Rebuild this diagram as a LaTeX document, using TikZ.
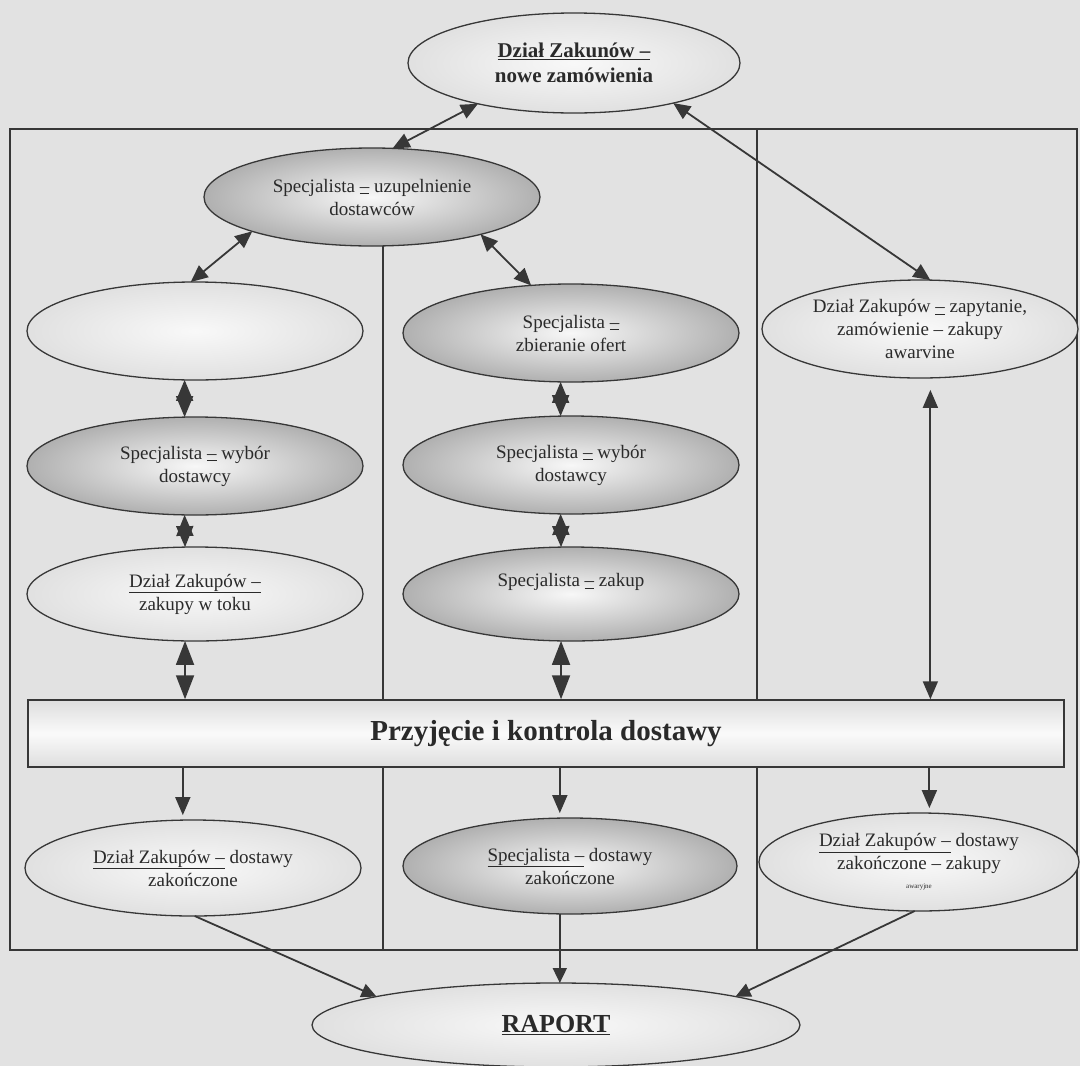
\documentclass[tikz,border=0pt]{standalone}
\usepackage{fontspec}
\setmainfont{Liberation Serif}
\usetikzlibrary{shapes.geometric,arrows.meta,calc}
\definecolor{bg}{RGB}{226,226,226}
\definecolor{ln}{RGB}{55,55,55}
\definecolor{tx}{RGB}{42,42,42}
\tikzset{
  ell/.style={ellipse, draw=ln, line width=1.3pt, inner sep=0pt, outer sep=0pt},
  std/.style={ell, minimum width=336pt, minimum height=98pt},
  plain/.style={inner color=gray!5, outer color=gray!24},
  shd/.style={inner color=gray!6, outer color=gray!62},
  txt/.style={align=center, text=tx, font=\fontsize{19}{23}\selectfont},
  conn/.style={draw=ln, line width=1.8pt},
  tA/.tip={Triangle[width=15pt,length=17pt]},
  tS/.tip={Triangle[width=17pt,length=21pt]},
  tB/.tip={Triangle[width=18pt,length=24pt]},
  tC/.tip={Triangle[width=15pt,length=18pt]},
  tR/.tip={Triangle[width=14pt,length=15pt]},
}
\begin{document}
\begin{tikzpicture}[x=1pt,y=-1pt]
\fill[bg] (0,0) rectangle (1080,1066);
\useasboundingbox (0,0) rectangle (1080,1066);
% frame and column dividers
\draw[ln, line width=1.4pt] (10,129) rectangle (1077,950);
\draw[ln, line width=1.4pt] (383,245) -- (383,950);
\draw[ln, line width=1.4pt] (757,129) -- (757,950);

% process bar
\node[draw=ln, line width=1.5pt, top color=gray!26, bottom color=gray!26, middle color=gray!4,
      minimum width=1036pt, minimum height=67pt, inner sep=0pt,
      font=\bfseries\fontsize{29}{32}\selectfont, text=tx] (rect) at (546,733.5) {Przyjęcie i kontrola dostawy};

% ellipses
\node[ell, minimum width=332pt, minimum height=100pt, plain,
      label={[txt, font=\bfseries\fontsize{21}{25}\selectfont]center:{\underline{Dział Zakunów –}\\nowe zamówienia}}] (top) at (574,63) {};
\node[std, shd, label={[txt]center:{Specjalista \underline{–} uzupelnienie\\dostawców}}] (spec) at (372,197) {};

\node[std, plain] (empty) at (195,331) {};
\node[std, shd, label={[txt]center:{Specjalista \underline{–} wybór\\dostawcy}}] (wybL) at (195,466) {};
\node[std, minimum height=94pt, plain, label={[txt]center:{\underline{Dział Zakupów –}\\zakupy w toku}}] (tok) at (195,594) {};

\node[std, shd, label={[txt]center:{Specjalista \underline{–}\\zbieranie ofert}}] (zbier) at (571,333) {};
\node[std, shd, label={[txt]center:{Specjalista \underline{–} wybór\\dostawcy}}] (wybM) at (571,465) {};
\node[std, minimum height=94pt, shd, label={[txt, yshift=12pt]center:{Specjalista \underline{–} zakup}}] (zak) at (571,594) {};

\node[ell, minimum width=316pt, minimum height=98pt, plain,
      label={[txt]center:{Dział Zakupów \underline{–} zapytanie,\\zamówienie – zakupy\\awarvine}}] (awar) at (920,329) {};

\node[std, minimum height=96pt, plain, label={[txt]center:{\underline{Dział Zakupów –} dostawy\\zakończone}}] (dL) at (193,868) {};
\node[ell, minimum width=334pt, minimum height=96pt, shd, label={[txt]center:{\underline{Specjalista –} dostawy\\zakończone}}] (dM) at (570,866) {};
\node[ell, minimum width=320pt, minimum height=98pt, plain,
      label={[txt]center:{\underline{Dział Zakupów –} dostawy\\zakończone – zakupy\\[-4pt]{\fontsize{7}{8}\selectfont awaryjne}}}] (dR) at (919,862) {};

\node[ell, minimum width=488pt, minimum height=84pt, plain,
      font=\bfseries\fontsize{26}{30}\selectfont, text=tx] (rap) at (556,1025) {\underline{RAPORT}};

% connectors
\draw[conn, tA-tA] (top.203) -- (spec.67);
\draw[conn, tA-tA] (top.338) -- (awar.78);
\draw[conn, tA-tA] (spec.196) -- (empty.95);
\draw[conn, tA-tA] (spec.341) -- (zbier.130);

\draw[conn, tS-tS] (empty.258) -- (wybL.102);
\draw[conn, tS-tS] (wybL.258) -- (tok.102);
\draw[conn, tS-tS] (zbier.258) -- (wybM.102);
\draw[conn, tS-tS] (wybM.258) -- (zak.102);

\draw[conn, tB-tB] (tok.258) -- (tok.258 |- rect.north);
\draw[conn, tB-tB] (zak.258) -- (zak.258 |- rect.north);
\draw[conn, tC-tC, shorten <=12pt] (awar.282) -- (awar.282 |- rect.north);

\draw[conn, -tC, shorten >=5pt] (dL.102 |- rect.south) -- (dL.102);
\draw[conn, -tC, shorten >=5pt] (dM.102 |- rect.south) -- (dM.102);
\draw[conn, -tC, shorten >=5pt] (dR.78 |- rect.south) -- (dR.78);

\draw[conn, -tR] (dL.272) -- (rap.171);
\draw[conn, -tR] (dM.258) -- (dM.258 |- rap.north);
\draw[conn, -tR] (dR.265) -- (rap.9);
\end{tikzpicture}
\end{document}
